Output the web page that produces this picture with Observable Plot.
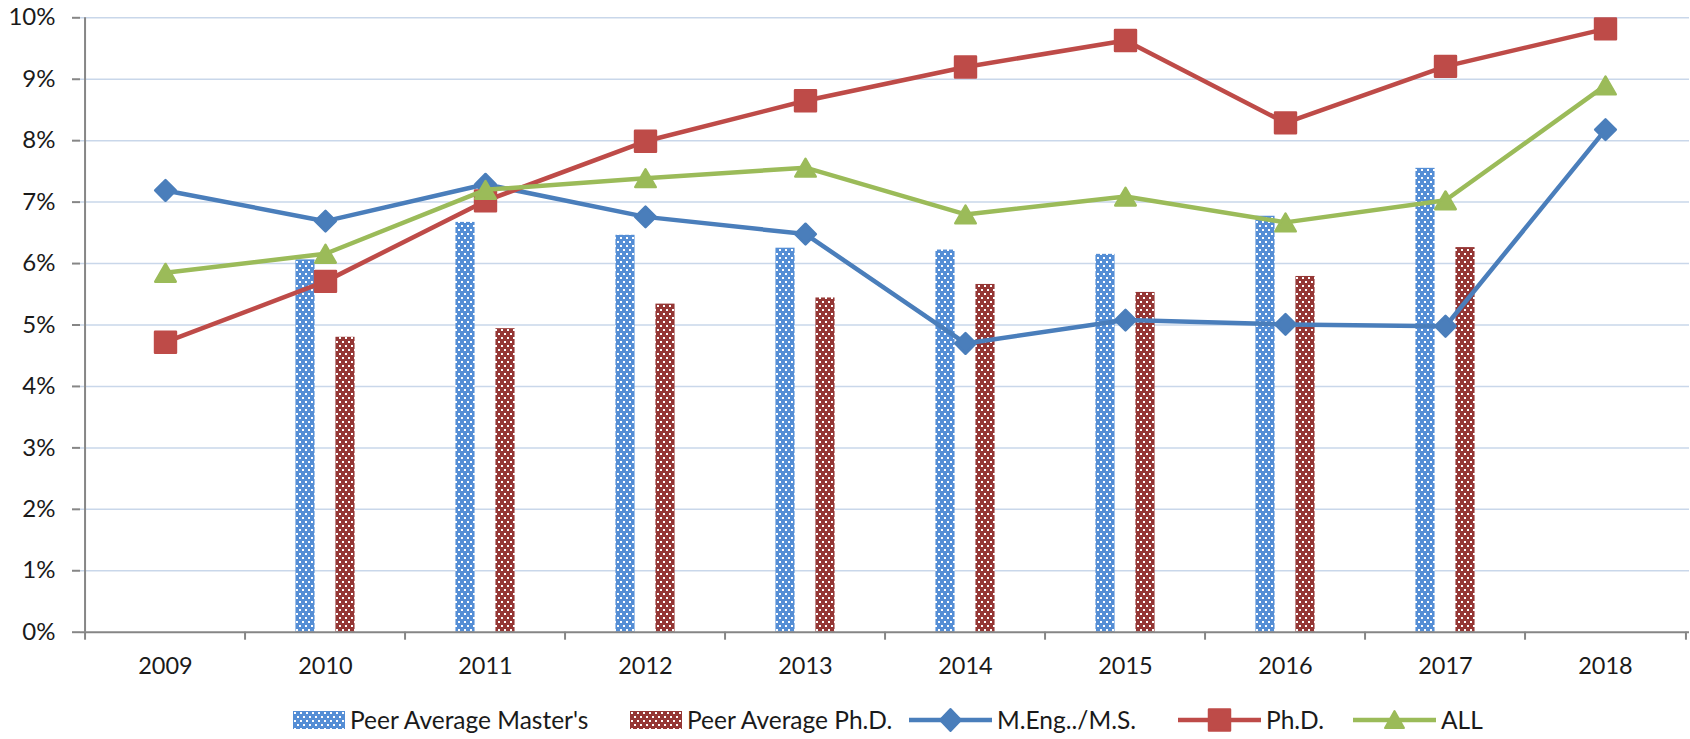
<!DOCTYPE html>
<html><head><meta charset="utf-8">
<script src="https://cdn.jsdelivr.net/npm/d3@7"></script>
<script src="https://cdn.jsdelivr.net/npm/@observablehq/plot@0.6"></script>
<style>
body{margin:0;background:#fff;font-family:Lato,sans-serif;}
#wrap{position:relative;width:1690px;height:739px;overflow:hidden;}
#legend{position:absolute;top:700px;left:0;width:1690px;height:39px;}
.item{position:absolute;top:0;height:39px;display:flex;align-items:center;font-size:24.5px;color:#1a1a1a;white-space:nowrap;}
.item span{margin-left:5px;}
</style></head><body>
<div id="wrap"><div id="chart"></div><div id="legend"></div></div>
<svg width="0" height="0" style="position:absolute">
<defs>
<pattern id="dotBlue" width="6" height="8" patternUnits="userSpaceOnUse"><rect width="6" height="8" fill="#558ed5"/><rect x="1" y="1" width="2" height="2" fill="#fff"/><rect x="4" y="5" width="2" height="2" fill="#fff"/></pattern>
<pattern id="dotRed" width="6" height="8" patternUnits="userSpaceOnUse"><rect width="6" height="8" fill="#953735"/><rect x="1" y="1" width="2" height="2" fill="#fff"/><rect x="4" y="5" width="2" height="2" fill="#fff"/></pattern>
</defs></svg>
<script>
const years = ["2009","2010","2011","2012","2013","2014","2015","2016","2017","2018"];
const peerMasters = [null, 6.06, 6.67, 6.46, 6.25, 6.22, 6.15, 6.77, 7.55, null];
const peerPhD = [null, 4.80, 4.94, 5.34, 5.44, 5.66, 5.53, 5.79, 6.26, null];
const meng = [7.19, 6.69, 7.29, 6.76, 6.48, 4.70, 5.08, 5.01, 4.98, 8.18];
const phd = [4.72, 5.71, 7.02, 7.99, 8.65, 9.20, 9.63, 8.29, 9.21, 9.82];
const all = [5.85, 6.16, 7.20, 7.39, 7.56, 6.80, 7.09, 6.67, 7.03, 8.90];
const yTicks = [0,1,2,3,4,5,6,7,8,9,10];
const barNames = ["Peer Average Master's", "Peer Average Ph.D."];
const lineNames = ["M.Eng../M.S.", "Ph.D.", "ALL"];

const rows = (vals) => years.map((year, i) => ({year, v: vals[i]})).filter(d => d.v != null);

const C = {blue: "#4a7ebb", red: "#be4b48", green: "#9bbb59", axis: "#868686", grid: "#c9d7ea"};
const half = (1689 - 80) / 20;

function series(vals, color, symbol, r, dy) {
  const d = rows(vals);
  return [
    Plot.line(d, {x: "year", y: "v", stroke: color, strokeWidth: 4.5, strokeLinejoin: "round"}),
    Plot.dot(d, {x: "year", y: "v", fill: color, stroke: color, strokeWidth: 2.5, strokeLinejoin: "round", symbol, r, dy})
  ];
}

const chart = Plot.plot({
  width: 1690, height: 700,
  marginLeft: 80, marginRight: 1, marginTop: 17.3, marginBottom: 68.3,
  style: {fontFamily: "Lato, sans-serif", fontSize: "23px", color: "#1a1a1a", background: "white"},
  x: {type: "band", domain: years, padding: 0, axis: null, label: null},
  y: {domain: [0, 10], axis: null, label: null},
  marks: [
    Plot.gridY(yTicks.filter(t => t > 0), {stroke: C.grid, strokeOpacity: 1, strokeWidth: 1.5}),
    Plot.barY(rows(peerMasters), {x: "year", y: "v", fill: "url(#dotBlue)", dx: -20, insetLeft: half - 10, insetRight: half - 10}),
    Plot.barY(rows(peerPhD), {x: "year", y: "v", fill: "url(#dotRed)", dx: 20, insetLeft: half - 10, insetRight: half - 10}),
    Plot.ruleY([0], {stroke: C.axis, strokeWidth: 2}),
    Plot.ruleX([years[0]], {dx: -half, stroke: C.axis, strokeWidth: 2}),
    Plot.axisY(yTicks, {label: null, tickSize: 8, tickPadding: 17, tickFormat: d => d + "%", fontSize: 24, stroke: C.axis, strokeWidth: 2, fill: "#1a1a1a"}),
    Plot.axisX(years, {label: null, tickSize: 8, text: null, dx: -half, stroke: C.axis, strokeWidth: 2}),
    Plot.axisX([years[years.length - 1]], {label: null, tickSize: 8, text: null, dx: half, stroke: C.axis, strokeWidth: 2}),
    Plot.axisX(years, {label: null, tickSize: 0, tickPadding: 25, fontSize: 23.5, fill: "#1a1a1a"}),
    ...series(meng, C.blue, "diamond2", 9.3, 0),
    ...series(phd, C.red, "square", 11.8, 0),
    ...series(all, C.green, "triangle", 7.6, 3)
  ]
});
document.getElementById("chart").appendChild(chart);

// Legend
const legend = document.getElementById("legend");
const legendLeft = [293, 630, 909, 1178, 1353];
const items = [
  {name: barNames[0], type: "bar", fill: "url(#dotBlue)"},
  {name: barNames[1], type: "bar", fill: "url(#dotRed)"},
  {name: lineNames[0], type: "line", color: C.blue, sym: "diamond"},
  {name: lineNames[1], type: "line", color: C.red, sym: "square"},
  {name: lineNames[2], type: "line", color: C.green, sym: "triangle"}
];
items.forEach((it, i) => {
  const div = document.createElement("div");
  div.className = "item";
  div.style.left = legendLeft[i] + "px";
  let sw;
  if (it.type === "bar") {
    sw = `<svg width="52" height="18"><rect width="52" height="18" fill="${it.fill}"/></svg>`;
  } else {
    let m;
    if (it.sym === "diamond") m = `<path d="M41.5,3 L52,14 L41.5,25 L31,14Z" fill="${it.color}" stroke="${it.color}" stroke-width="2" stroke-linejoin="round"/>`;
    else if (it.sym === "square") m = `<rect x="31" y="3.5" width="21" height="21" fill="${it.color}" stroke="${it.color}" stroke-width="2.5" stroke-linejoin="round"/>`;
    else m = `<path d="M41.5,5 L51,22 L32,22Z" fill="${it.color}" stroke="${it.color}" stroke-width="2" stroke-linejoin="round"/>`;
    sw = `<svg width="83" height="28"><line x1="0" x2="83" y1="14" y2="14" stroke="${it.color}" stroke-width="4.5"/>${m}</svg>`;
  }
  div.innerHTML = sw + `<span>${it.name}</span>`;
  legend.appendChild(div);
});
</script>
</body></html>
